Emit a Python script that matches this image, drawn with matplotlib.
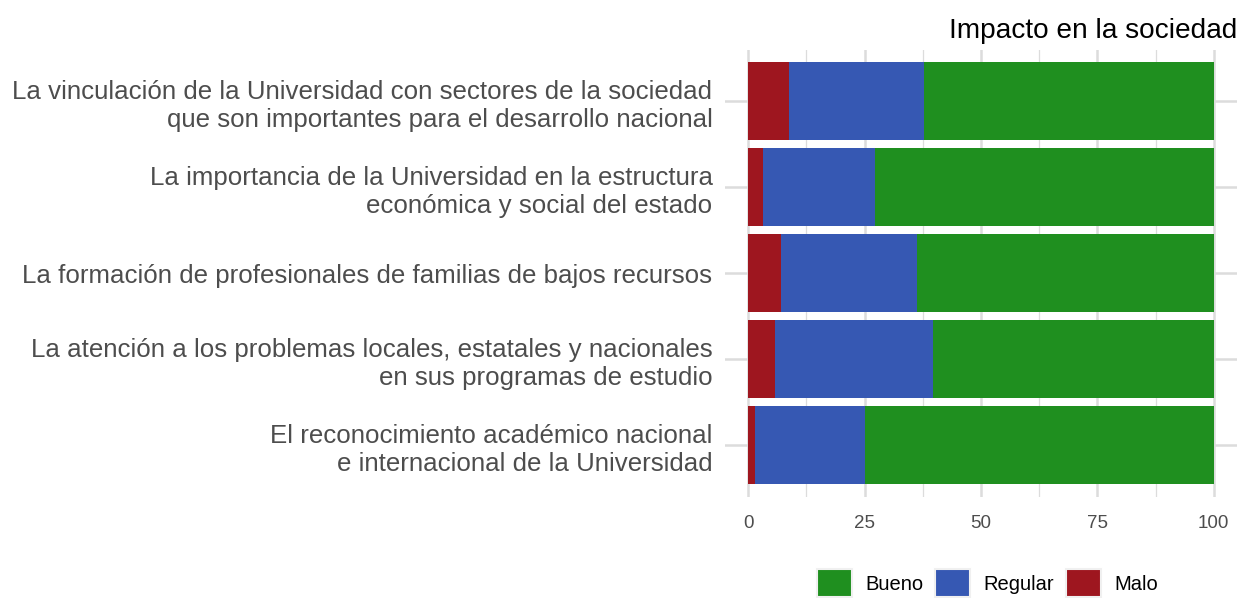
import matplotlib.pyplot as plt
from matplotlib.patches import Patch
from matplotlib.ticker import MultipleLocator

plt.rcParams["font.family"] = ["Liberation Sans", "DejaVu Sans"]

categorias = [
    "La vinculación de la Universidad con sectores de la sociedad\nque son importantes para el desarrollo nacional",
    "La importancia de la Universidad en la estructura\neconómica y social del estado",
    "La formación de profesionales de familias de bajos recursos",
    "La atención a los problemas locales, estatales y nacionales\nen sus programas de estudio",
    "El reconocimiento académico nacional\ne internacional de la Universidad",
]
malo = [8.8, 3.2, 7.0, 5.7, 1.5]
regular = [28.9, 24.1, 29.3, 34.0, 23.6]
bueno = [62.3, 72.7, 63.7, 60.3, 74.9]

colores = {"Bueno": "#1f8f1f", "Regular": "#3658b3", "Malo": "#9e161f"}
grid_col = "#dcdcdc"

fig = plt.figure(figsize=(12.41, 5.98), dpi=100)
ax = fig.add_axes([725 / 1241, 101.4 / 598, 512 / 1241, 447 / 598])

y = list(range(len(categorias)))
izq = [0.0] * len(categorias)
for nombre, vals in [("Malo", malo), ("Regular", regular), ("Bueno", bueno)]:
    ax.barh(y, vals, left=izq, height=0.9, color=colores[nombre], zorder=2)
    izq = [a + b for a, b in zip(izq, vals)]

ax.set_xlim(-5, 105)
ax.set_ylim(len(categorias) - 0.4, -0.6)
ax.xaxis.set_major_locator(MultipleLocator(25))
ax.xaxis.set_minor_locator(MultipleLocator(12.5))
ax.set_yticks(y)
ax.set_yticklabels(categorias, fontsize=18.6, color="#4d4d4d", linespacing=1.21)
ax.tick_params(axis="x", labelsize=13.5, labelcolor="#4d4d4d", length=0, pad=13)
ax.tick_params(axis="x", which="minor", length=0)
ax.tick_params(axis="y", length=0, pad=9)

ax.grid(True, which="major", color=grid_col, linewidth=1.8, zorder=0)
ax.grid(True, which="minor", axis="x", color=grid_col, linewidth=0.9, zorder=0)
ax.set_axisbelow(True)
for s in ax.spines.values():
    s.set_visible(False)

fig.text(1237 / 1241, 1 - 31 / 598, "Impacto en la sociedad", ha="right", va="center",
         fontsize=20.2, color="black")

handles = [Patch(facecolor=colores[k], edgecolor="#f0f0f0", linewidth=1.5, label=k)
           for k in ["Bueno", "Regular", "Malo"]]
fig.legend(handles=handles, loc="center", bbox_to_anchor=(987.5 / 1241, 1 - 583 / 598),
           ncol=3, frameon=False, fontsize=14.5, handlelength=1.74, handleheight=1.74,
           handletextpad=0.65, columnspacing=0.6, borderpad=0)

fig.savefig("out.png", dpi=100)
